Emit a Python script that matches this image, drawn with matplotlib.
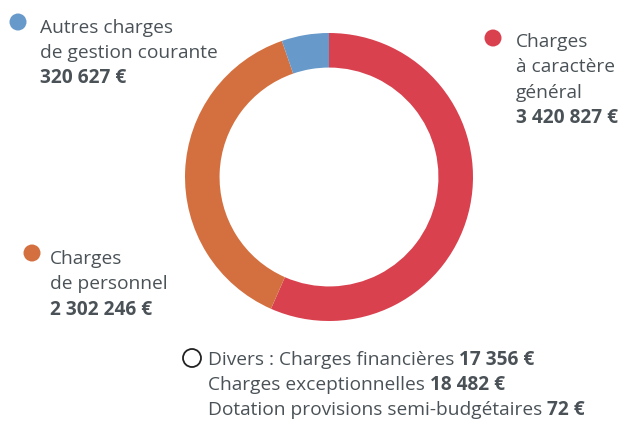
import matplotlib
matplotlib.use("Agg")
import matplotlib.pyplot as plt
from matplotlib.patches import Ellipse

# Data
categories = ["Charges à caractère général", "Charges de personnel", "Autres charges de gestion courante"]
values = [3420827, 2302246, 320627]
colors = ["#D9414F", "#D4703F", "#6899CB"]
divers_labels = ["Charges financières", "Charges exceptionnelles", "Dotation provisions semi-budgétaires"]
divers_values = ["17 356 €", "18 482 €", "72 €"]

W, H = 628, 423
fig = plt.figure(figsize=(W / 100, H / 100), dpi=100)
FONT = "Open Sans"
TXT = "#4A5257"
FS = 13.8

cx, cy, R = 329, 177, 144
ax = fig.add_axes([(cx - R) / W, (H - cy - R) / H, 2 * R / W, 2 * R / H])
ax.pie(values, colors=colors, startangle=90, counterclock=False, radius=1,
       wedgeprops=dict(width=0.24, edgecolor="none"))
ax.set_xlim(-1, 1)
ax.set_ylim(-1, 1)
ax.set_aspect("equal")
ax.axis("off")

def fx(x):
    return x / W

def fy(y):
    return 1 - y / H

def dot(x, y, color, r=8.5, fill=True):
    e = Ellipse((fx(x), fy(y)), 2 * r / W, 2 * r / H, transform=fig.transFigure,
                facecolor=color if fill else "white", edgecolor="#222222" if not fill else "none",
                lw=1.3 if not fill else 0)
    fig.patches.append(e)

def line(x, y, s, bold=False):
    return fig.text(fx(x), fy(y), s, fontsize=FS, family=FONT, color=TXT,
                    fontweight="bold" if bold else "normal", va="baseline", ha="left")

def money(v):
    return f"{v:,} €".replace(",", " ")

# Autres charges
dot(18, 22, colors[2])
line(40, 33, "Autres charges")
line(40, 58, "de gestion courante")
line(40, 83, money(values[2]), bold=True)

# Charges à caractère général
dot(493, 38, colors[0])
line(516, 47, "Charges")
line(516, 72, "à caractère")
line(516, 98, "général")
line(516, 123, money(values[0]), bold=True)

# Charges de personnel
dot(32, 253, colors[1])
line(50, 264, "Charges")
line(50, 289, "de personnel")
line(50, 315, money(values[1]), bold=True)

# Divers
dot(192, 358, "white", r=9, fill=False)
renderer = fig.canvas.get_renderer()
rows = [("Divers : " + divers_labels[0] + " ", divers_values[0], 365),
        (divers_labels[1] + " ", divers_values[1], 390),
        (divers_labels[2] + " ", divers_values[2], 415)]
for lab, val, y in rows:
    t = line(208, y, lab)
    bb = t.get_window_extent(renderer)
    fig.text(bb.x1 / W, fy(y), val, fontsize=FS, family=FONT, color=TXT,
             fontweight="bold", va="baseline", ha="left")

fig.savefig("out.png", dpi=100)
